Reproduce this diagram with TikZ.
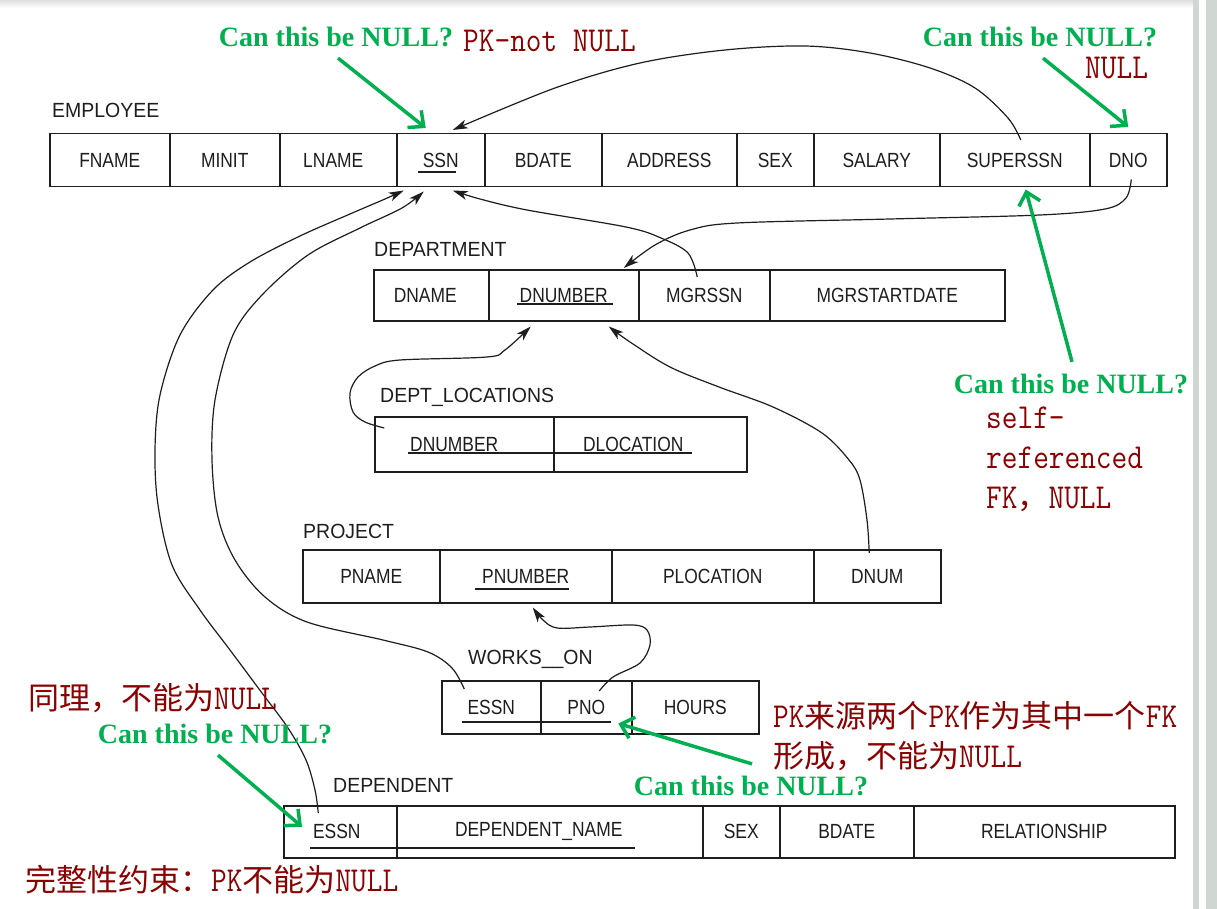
\documentclass[tikz,border=0pt]{standalone}
\usepackage{fontspec}
\usepackage{tikz}
\usetikzlibrary{arrows.meta}

\newfontfamily\attrfont[FakeStretch=0.85]{Liberation Sans}
\newfontfamily\relfont[FakeStretch=0.95]{Liberation Sans}
\newfontfamily\askfont{Liberation Serif}
\newfontfamily\notefont[FakeStretch=0.87]{Latin Modern Mono}
\newfontfamily\cjkfont{Noto Sans CJK SC}
\newcommand\zh[1]{{\cjkfont\fontsize{31}{40}\selectfont #1}}

\definecolor{ink}{RGB}{30,30,30}
\definecolor{nullgreen}{RGB}{0,176,80}
\definecolor{notered}{RGB}{139,0,0}
\definecolor{sidebar}{RGB}{208,214,210}

\begin{document}
\begin{tikzpicture}[x=1pt,y=-1pt,
  attr/.style={draw=ink,line width=1.5pt,rectangle,anchor=north west,inner sep=0pt,minimum height=53pt,text=ink,font=\attrfont\fontsize{20.5}{22}\selectfont},
  relname/.style={anchor=west,inner sep=0pt,text=ink,font=\relfont\fontsize{20.5}{22}\selectfont},
  keyline/.style={draw=ink,line width=1.3pt},
  fk/.style={draw=ink,line width=1.2pt,-{Stealth[length=15pt,width=9pt,inset=4pt]}},
  ask/.style={inner sep=0pt,text=nullgreen,font=\askfont\bfseries\fontsize{28}{30}\selectfont},
  askarrow/.style={draw=nullgreen,line width=3.5pt,-{Straight Barb[length=12pt,width=22pt]}},
  note/.style={anchor=west,inner sep=0pt,align=left,text=notered,font=\notefont\fontsize{35}{40}\selectfont}]
\fill[white] (0,0) rectangle (1217,909);
\useasboundingbox (0,0) rectangle (1217,909);
\shade[top color=gray!25,bottom color=white] (0,0) rectangle (1193,8);
\fill[sidebar] (1193,0) rectangle (1199,909);
\fill[sidebar] (1206,0) rectangle (1217,909);

% EMPLOYEE
\node[relname] (employee) at (52,110) {EMPLOYEE};
\node[attr,minimum width=120pt] (e-fname) at (49,133) {FNAME};
\node[attr,minimum width=110pt] (e-minit) at (169,133) {MINIT};
\node[attr,minimum width=117pt] (e-lname) at (279,133) {LNAME\kern10pt};
\node[attr,minimum width=88pt] (e-ssn) at (396,133) {SSN};
\node[attr,minimum width=117pt] (e-bdate) at (484,133) {BDATE};
\node[attr,minimum width=135pt] (e-addr) at (601,133) {ADDRESS};
\node[attr,minimum width=77pt] (e-sex) at (736,133) {SEX};
\node[attr,minimum width=126pt] (e-salary) at (813,133) {SALARY};
\node[attr,minimum width=150pt] (e-super) at (939,133) {SUPERSSN};
\node[attr,minimum width=77pt] (e-dno) at (1089,133) {DNO};
\draw[keyline] (418,172) -- (456,172);

% DEPARTMENT
\node[relname] (department) at (374,249) {DEPARTMENT};
\node[attr,minimum height=51pt,minimum width=115pt] (d-dname) at (373,269) {DNAME\kern12pt};
\node[attr,minimum height=51pt,minimum width=150pt] (d-dnum) at (488,269) {DNUMBER};
\node[attr,minimum height=51pt,minimum width=131pt] (d-mgr) at (638,269) {MGRSSN};
\node[attr,minimum height=51pt,minimum width=235pt] (d-mgrdate) at (769,269) {MGRSTARTDATE};
\draw[keyline] (517,304) -- (613,304);

% DEPT_LOCATIONS
\node[relname] (deptloc) at (380,397) {DEPT\_LOCATIONS};
\node[attr,minimum height=55pt,minimum width=179pt] (l-dnum) at (374,416) {DNUMBER\kern20pt};
\node[attr,minimum height=55pt,minimum width=193pt] (l-dloc) at (553,416) {DLOCATION\kern34pt};
\draw[keyline] (408,453) -- (692,453);

% PROJECT
\node[relname] (project) at (303,531) {PROJECT};
\node[attr,minimum width=137pt] (p-pname) at (302,549) {PNAME};
\node[attr,minimum width=172pt] (p-pnum) at (439,549) {PNUMBER};
\node[attr,minimum width=202pt] (p-ploc) at (611,549) {PLOCATION};
\node[attr,minimum width=127pt] (p-dnum) at (813,549) {DNUM};
\draw[keyline] (475,589) -- (569,589);

% WORKS_ON
\node[relname] (workson) at (468,659) {WORKS\_\_ON};
\node[attr,minimum width=99pt] (w-essn) at (441,680) {ESSN};
\node[attr,minimum width=91pt] (w-pno) at (540,680) {PNO};
\node[attr,minimum width=127pt] (w-hours) at (631,680) {HOURS};
\draw[keyline] (462,722) -- (611,722);

% DEPENDENT
\node[relname] (dependent) at (333,785) {DEPENDENT};
\node[attr,minimum height=52pt,minimum width=113pt] (dp-essn) at (283,805) {ESSN\kern7pt};
\node[attr,minimum height=52pt,minimum width=306pt] (dp-name) at (396,805) {DEPENDENT\_NAME\kern22pt};
\node[attr,minimum height=52pt,minimum width=77pt] (dp-sex) at (702,805) {SEX};
\node[attr,minimum height=52pt,minimum width=134pt] (dp-bdate) at (779,805) {BDATE};
\node[attr,minimum height=52pt,minimum width=261pt] (dp-rel) at (913,805) {RELATIONSHIP};
\draw[keyline] (310,848) -- (635,848);

% foreign keys
\draw[fk] plot[smooth,tension=0.55] coordinates {([xshift=6pt,yshift=-7pt]e-super.north) (1008,118) (975,88) (930,68) (870,53) (805,46) (725,50) (640,63) (555,88) ([xshift=12pt,yshift=3pt]e-ssn.north)};
\draw[fk] plot[smooth,tension=0.55] coordinates {([xshift=3pt,yshift=8pt]e-dno.south) (1126,198) (1105,209) (1040,215) (890,219) (737,223) (690,230) (655,245) ([xshift=60pt,yshift=1pt]d-dnum.north)};
\draw[fk] plot[smooth,tension=0.55] coordinates {([xshift=-7pt,yshift=-8pt]d-mgr.north) (688,253) (661,238) (626,227) (527,210) (480,199) ([xshift=12pt,yshift=-3pt]e-ssn.south)};
\draw[fk] plot[smooth,tension=0.55] coordinates {([xshift=-27pt,yshift=-9pt]w-essn.north) (452,668) (428,652) (383,640) (307,622) (265,597) (235,560) (218,517) (212,460) (215,400) (233,335) (262,295) (308,255) (360,228) (402,208) ([xshift=-17pt,yshift=-4pt]e-ssn.south)};
\draw[fk] plot[smooth,tension=0.55] coordinates {([xshift=-22pt,yshift=-8pt]dp-essn.north) (315,790) (306,760) (288,728) (262,693) (230,650) (200,610) (172,565) (158,505) (155,450) (160,395) (180,335) (213,290) (250,262) (300,236) (350,214) (385,199) ([xshift=-37pt,yshift=-3pt]e-ssn.south)};
\draw[fk] plot[smooth,tension=0.55] coordinates {([xshift=-80pt,yshift=-12pt]l-dnum.north) (365,422) (353,412) (350,393) (358,377) (375,366) (400,360) (487,357) (505,350) ([xshift=-33pt,yshift=-5pt]d-dnum.south)};
\draw[fk] plot[smooth,tension=0.55] coordinates {([xshift=-8pt,yshift=-4pt]p-dnum.north) (867,520) (860,480) (849,460) (822,433) (773,407) (719,387) (670,367) (630,342) ([xshift=45pt,yshift=-5pt]d-dnum.south)};
\draw[fk] plot[smooth,tension=0.55] coordinates {([xshift=13pt,yshift=-11pt]w-pno.north) (613,677) (640,663) (650,645) (647,630) (633,625) (590,627) (557,628) (543,620) ([xshift=7pt,yshift=-4pt]p-pnum.south)};

% questions
\node[ask] (ask-ssn) at (336,37) {Can this be NULL?};
\node[ask] (ask-dno) at (1040,37) {Can this be NULL?};
\node[ask] (ask-super) at (1071,384) {Can this be NULL?};
\node[ask] (ask-dep) at (215,734) {Can this be NULL?};
\node[ask] (ask-pno) at (751,786) {Can this be NULL?};
\draw[askarrow] ([xshift=2pt,yshift=-11pt]ask-ssn.south) -- ([xshift=-15pt,yshift=5pt]e-ssn.north);
\draw[askarrow] ([xshift=3pt,yshift=-11pt]ask-dno.south) -- ([yshift=6pt]e-dno.north);
\draw[askarrow] ([xshift=1pt,yshift=12pt]ask-super.north) -- ([xshift=11pt,yshift=-2pt]e-super.south);
\draw[askarrow] ([xshift=3pt,yshift=-11pt]ask-dep.south) -- ([xshift=19pt,yshift=5pt]dp-essn.west);
\draw[askarrow] ([xshift=1pt,yshift=12pt]ask-pno.north) -- ([xshift=32pt,yshift=11pt]w-pno.south);

% answers
\node[note] (ans-ssn) at (463,41) {PK-not NULL};
\node[note] (ans-dno) at (1085,68) {NULL};
\node[note] (ans-super) at (986,459) {self-\\referenced\\FK\zh{，}NULL};
\node[note] (ans-dep) at (28,698) {\zh{同理，不能为}NULL};
\node[note] (ans-pno) at (773,736) {PK\zh{来源两个}PK\zh{作为其中一个}FK\\\zh{形成，不能为}NULL};
\node[note] (ans-all) at (25,880) {\zh{完整性约束：}PK\zh{不能为}NULL};
\end{tikzpicture}
\end{document}
